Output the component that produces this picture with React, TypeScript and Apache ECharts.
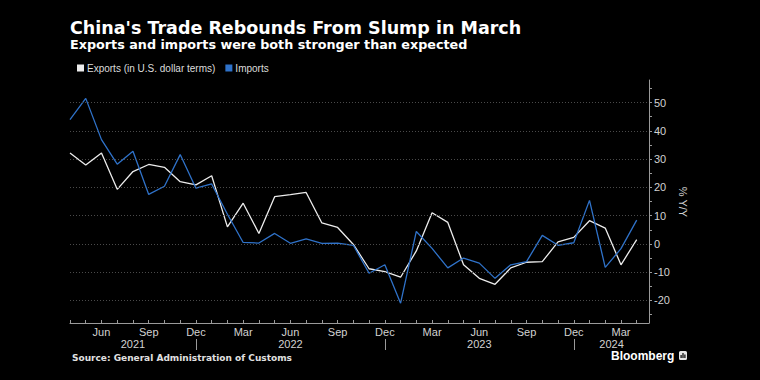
import React, { useEffect, useRef } from "react";
import * as echarts from "echarts";

// Monthly data, index 0 = April 2021 ... index 36 = April 2024
const startMonth = 3; // April (0-based month index)
const monthNames = ["Jan", "Feb", "Mar", "Apr", "May", "Jun", "Jul", "Aug", "Sep", "Oct", "Nov", "Dec"];

const exportsYoY = [
  32.2, 27.9, 32.2, 19.3, 25.6, 28.1, 27.1, 22.0, 20.9,
  24.1, 6.0, 14.4, 3.7, 16.7, 17.4, 18.2, 7.4, 5.8, -0.2, -8.8, -9.8,
  -11.8, -2.5, 11.0, 7.6, -7.4, -12.2, -14.3, -8.5, -6.5, -6.3, 0.7, 2.3,
  8.2, 5.6, -7.4, 1.5,
];
const importsYoY = [
  44.0, 51.5, 36.9, 28.2, 32.8, 17.5, 20.4, 31.6, 19.7,
  21.2, 10.5, 0.5, 0.3, 3.7, 0.2, 1.8, 0.2, 0.3, -0.5, -10.4, -7.4,
  -21.0, 4.4, -1.6, -8.5, -5.0, -6.8, -12.2, -7.4, -6.3, 3.0, -0.5, 0.4,
  15.4, -8.3, -1.7, 8.4,
];

const monthTickIdx = exportsYoY.map((_, i) => i);
const monthLabelIdx = [2, 5, 8, 11, 14, 17, 20, 23, 26, 29, 32, 35];
const yearLabelIdx = [4, 14, 26, 34.4];
const yearLabels = ["2021", "2022", "2023", "2024"];
const yearSepIdx = [8, 20, 32];
const yMajorTicks = [-20, -10, 0, 10, 20, 30, 40, 50];
const yMinorTicks = [-25, -20, -15, -10, -5, 0, 5, 10, 15, 20, 25, 30, 35, 40, 45, 50, 55];

const X_MAX = 36.78;
const Y_MIN = -28;
const Y_MAX = 58;

const AXIS_COLOR = "#9a9a9a";
const LABEL_COLOR = "#d2d2d2";
const BLUE = "#2f72c9";
const WHITE = "#ececec";
const FONT = "'Liberation Sans', Arial, sans-serif";
const TITLE_FONT = "'DejaVu Sans', sans-serif";

export default function App() {
  const ref = useRef<HTMLDivElement>(null);

  useEffect(() => {
    document.body.style.margin = "0";
    document.body.style.background = "#000";
    if (!ref.current) return;
    const chart = echarts.init(ref.current, null, { renderer: "svg" });

    const option: any = {
      animation: false,
      backgroundColor: "#000",
      textStyle: { fontFamily: FONT },
      grid: { left: 70, right: 111, top: 80, bottom: 57, containLabel: false, outerBoundsMode: "none" },
      legend: {
        left: 72,
        top: 58,
        icon: "rect",
        itemWidth: 7,
        itemHeight: 7,
        itemGap: 10,
        textStyle: { color: "#dcdcdc", fontSize: 10, fontFamily: FONT, padding: [0, 0, 0, -2] },
        data: ["Exports (in U.S. dollar terms)", "Imports"],
      },
      xAxis: [
        {
          type: "value",
          min: 0,
          max: X_MAX,
          position: "bottom",
          axisLine: { show: true, onZero: false, lineStyle: { color: AXIS_COLOR, width: 1 } },
          axisTick: { show: true, inside: true, length: 3, customValues: monthTickIdx, lineStyle: { color: AXIS_COLOR } },
          axisLabel: {
            customValues: monthLabelIdx,
            formatter: (v: number) => monthNames[(startMonth + Math.round(v)) % 12],
            color: LABEL_COLOR,
            fontSize: 11,
            margin: 3,
            fontFamily: FONT,
          },
          splitLine: { show: false },
        },
        {
          type: "value",
          min: 0,
          max: X_MAX,
          position: "bottom",
          offset: 16,
          axisLine: { show: false, onZero: false },
          axisTick: { show: true, length: 11, customValues: yearSepIdx, lineStyle: { color: AXIS_COLOR } },
          axisLabel: { show: false },
          splitLine: { show: false },
        },
        {
          type: "value",
          min: 0,
          max: X_MAX,
          position: "bottom",
          axisLine: { show: false, onZero: false },
          axisTick: { show: false },
          axisLabel: {
            customValues: yearLabelIdx,
            formatter: (v: number) => {
              const k = yearLabelIdx.findIndex((p) => Math.abs(p - v) < 1e-6);
              return k >= 0 ? yearLabels[k] : "";
            },
            color: LABEL_COLOR,
            fontSize: 11,
            margin: 15,
            fontFamily: FONT,
          },
          splitLine: { show: false },
        },
      ],
      yAxis: {
        type: "value",
        position: "right",
        min: Y_MIN,
        max: Y_MAX,
        axisLine: { show: true, onZero: false, lineStyle: { color: AXIS_COLOR, width: 1 } },
        axisTick: { show: true, length: 3, customValues: yMinorTicks, lineStyle: { color: AXIS_COLOR } },
        axisLabel: {
          customValues: yMajorTicks,
          color: LABEL_COLOR,
          fontSize: 11,
          margin: 5,
          fontFamily: FONT,
        },
        splitLine: { show: false },
      },
      series: [
        {
          name: "Exports (in U.S. dollar terms)",
          type: "line",
          data: exportsYoY.map((v, i) => [i, v]),
          symbol: "none",
          itemStyle: { color: WHITE },
          lineStyle: { color: WHITE, width: 1.3 },
          markLine: {
            silent: true,
            symbol: "none",
            label: { show: false },
            lineStyle: { color: "#4a4a4a", type: [1, 2], width: 1 },
            data: yMajorTicks.map((v) => ({ yAxis: v })),
          },
        },
        {
          name: "Imports",
          type: "line",
          data: importsYoY.map((v, i) => [i, v]),
          symbol: "none",
          itemStyle: { color: BLUE },
          lineStyle: { color: BLUE, width: 1.3 },
        },
      ],
      graphic: [
        {
          type: "text",
          left: 70,
          top: 19,
          style: { text: "China's Trade Rebounds From Slump in March", fill: "#fff", font: `bold 17.5px ${TITLE_FONT}` },
        },
        {
          type: "text",
          left: 70,
          top: 38,
          style: { text: "Exports and imports were both stronger than expected", fill: "#fff", font: `bold 12.75px ${TITLE_FONT}` },
        },
        {
          type: "text",
          left: 72,
          top: 353,
          style: { text: "Source: General Administration of Customs", fill: "#e0e0e0", font: `bold 9px ${TITLE_FONT}` },
        },
        {
          type: "text",
          left: 611,
          top: 350,
          style: { text: "Bloomberg", fill: "#fff", font: `bold 12px ${FONT}` },
        },
        {
          type: "group",
          left: 679,
          top: 351,
          children: [
            { type: "rect", shape: { x: 0, y: 0, width: 8, height: 9, r: 1.5 }, style: { fill: "#e6e6e6" } },
            { type: "rect", shape: { x: 1.5, y: 4, width: 1.2, height: 3 }, style: { fill: "#000" } },
            { type: "rect", shape: { x: 3.4, y: 2, width: 1.2, height: 5 }, style: { fill: "#000" } },
            { type: "rect", shape: { x: 5.3, y: 3.5, width: 1.2, height: 3.5 }, style: { fill: "#000" } },
          ],
        },
        {
          type: "text",
          x: 683,
          y: 202,
          rotation: -Math.PI / 2,
          style: { text: "% Y/Y", fill: LABEL_COLOR, font: `11px ${FONT}`, align: "center", verticalAlign: "middle" },
        },
      ],
    };

    chart.setOption(option);
    return () => chart.dispose();
  }, []);

  return <div ref={ref} style={{ width: 760, height: 380, background: "#000" }} />;
}
